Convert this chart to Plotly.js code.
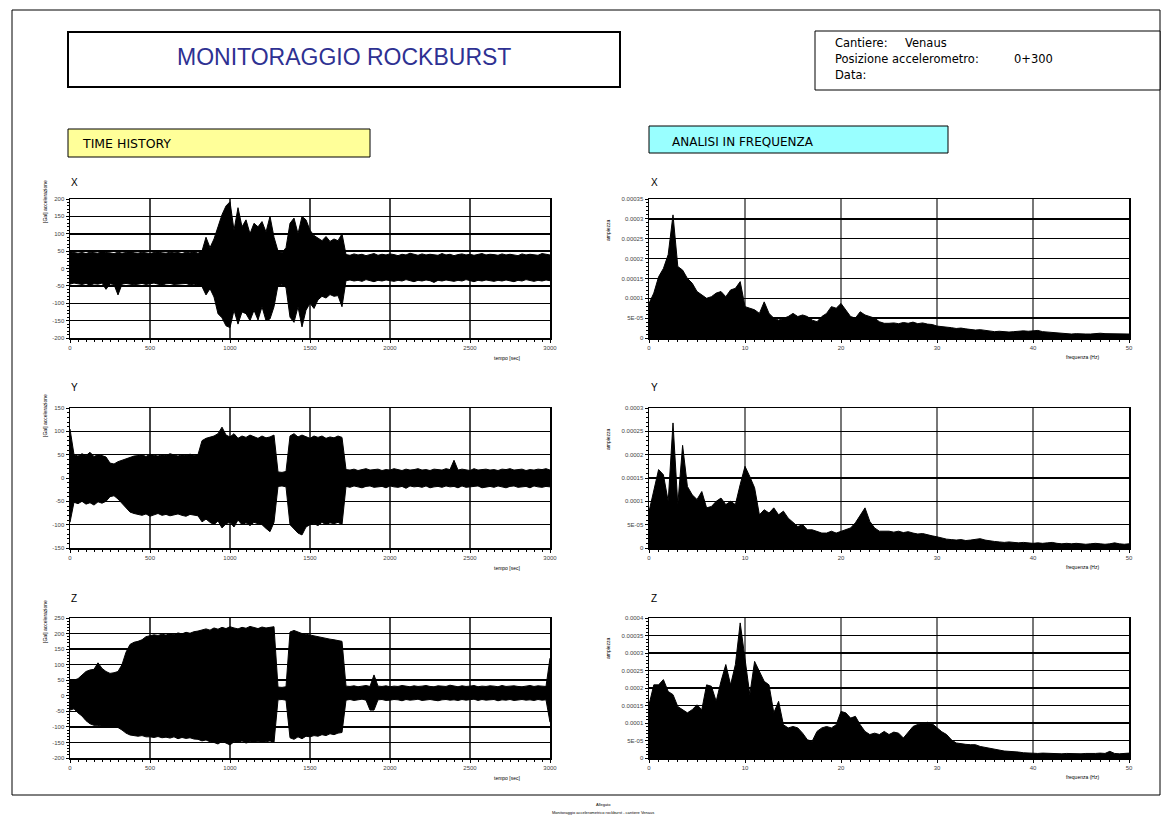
<!DOCTYPE html>
<html>
<head>
<meta charset="utf-8">
<script src="https://cdn.plot.ly/plotly-3.0.1.min.js"></script>
<style>html,body{margin:0;padding:0;background:#fff;}#chart{width:1168px;height:819px;}</style>
</head>
<body>
<div id="chart"></div>
<script>
// ---------- DATA ----------
const timeSec = [0,25,50,75,100,125,150,175,200,225,250,275,300,325,350,375,400,425,450,475,500,525,550,575,600,625,650,675,700,725,750,775,800,825,850,875,900,925,950,975,1000,1025,1050,1075,1100,1125,1150,1175,1200,1225,1250,1275,1300,1325,1350,1375,1400,1425,1450,1475,1500,1525,1550,1575,1600,1625,1650,1675,1700,1725,1750,1775,1800,1825,1850,1875,1900,1925,1950,1975,2000,2025,2050,2075,2100,2125,2150,2175,2200,2225,2250,2275,2300,2325,2350,2375,2400,2425,2450,2475,2500,2525,2550,2575,2600,2625,2650,2675,2700,2725,2750,2775,2800,2825,2850,2875,2900,2925,2950,2975,3000];

const accX_max = [48,45,44,46,43,47,45,44,52,46,45,43,47,44,46,50,45,44,47,45,43,46,48,45,44,47,45,46,43,47,45,48,44,50,
  90,60,85,120,155,180,192,110,175,120,140,100,130,120,135,105,150,90,50,45,60,130,145,100,150,140,110,95,88,80,92,78,85,80,100,
  40,38,42,39,41,37,40,43,38,41,39,42,40,37,41,39,44,40,38,42,39,41,40,38,43,39,41,37,40,42,39,41,38,40,43,39,41,40,38,42,39,41,40,37,42,39,41,40,38,43,40,39];
const accX_min = [-45,-42,-44,-46,-43,-48,-44,-45,-42,-60,-44,-46,-76,-45,-43,-44,-47,-45,-43,-46,-44,-42,-45,-48,-44,-43,-46,-45,-44,-43,-47,-45,-48,-52,
  -76,-58,-82,-130,-142,-165,-170,-120,-160,-125,-130,-150,-120,-148,-110,-150,-145,-110,-48,-45,-55,-140,-155,-110,-168,-120,-100,-115,-90,-80,-85,-75,-80,-78,-110,
  -35,-33,-36,-34,-37,-32,-35,-38,-34,-36,-33,-35,-37,-34,-36,-32,-35,-38,-34,-36,-33,-35,-40,-34,-36,-33,-35,-37,-34,-36,-32,-35,-38,-34,-36,-33,-35,-37,-34,-36,-33,-35,-38,-34,-36,-32,-35,-37,-34,-36,-33,-35];

const accY_max = [105,50,47,52,48,55,46,50,48,45,32,30,35,38,42,45,47,
  48,50,46,51,49,47,50,48,52,49,47,50,48,51,49,50,
  80,85,88,90,95,109,92,88,95,85,90,87,92,88,85,90,86,88,92,
  13,12,14,
  90,95,88,92,88,85,90,87,90,85,88,86,90,87,
  18,17,19,16,18,20,17,18,19,16,18,17,20,18,16,19,17,18,20,17,18,16,19,18,17,20,18,38,17,19,18,16,20,17,18,19,17,18,16,19,18,20,17,18,19,16,18,17,19,18,20,17];
const accY_min = [-95,-52,-55,-50,-56,-53,-58,-51,-54,-50,-40,-38,-45,-55,-65,-73,-76,
  -78,-80,-77,-82,-79,-76,-80,-78,-81,-79,-77,-80,-82,-78,-79,-81,
  -94,-88,-95,-100,-92,-107,-98,-95,-105,-90,-100,-96,-102,-95,-98,-100,-108,-115,-95,
  -18,-17,-19,
  -100,-110,-118,-122,-105,-100,-98,-102,-95,-100,-96,-98,-95,-100,
  -18,-20,-17,-19,-21,-18,-17,-20,-19,-18,-21,-17,-19,-20,-18,-22,-17,-19,-18,-20,-17,-21,-19,-18,-20,-17,-19,-18,-21,-17,-20,-19,-18,-17,-21,-19,-18,-20,-17,-19,-21,-18,-17,-20,-19,-18,-21,-17,-19,-20,-18,-19];

const accZ_max = [51,50,55,65,78,83,85,106,88,78,72,74,78,100,140,165,172,175,180,190,
  192,196,194,198,195,200,197,202,199,204,201,206,
  208,212,215,211,218,214,220,216,222,218,215,220,217,223,219,216,221,218,220,222,
  28,27,29,
  205,210,205,200,198,195,192,190,188,185,182,180,178,175,
  31,30,32,29,31,33,30,67,31,30,32,29,31,30,33,31,29,32,30,31,33,30,29,32,31,30,34,31,29,32,30,31,33,29,31,30,32,31,29,33,30,31,32,30,29,31,33,30,32,31,30,121];
const accZ_min = [-46,-42,-55,-65,-80,-90,-95,-95,-98,-100,-100,-98,-102,-110,-120,-126,-128,-130,-128,-132,
  -132,-134,-131,-135,-133,-136,-132,-138,-134,-137,-135,-139,
  -140,-145,-142,-148,-150,-155,-146,-152,-158,-148,-150,-145,-152,-148,-150,-146,-150,-148,-145,-150,
  -13,-12,-14,
  -135,-140,-132,-138,-130,-132,-128,-130,-125,-128,-122,-125,-120,-118,
  -14,-12,-15,-13,-11,-14,-46,-46,-13,-12,-15,-14,-12,-13,-16,-12,-14,-13,-11,-15,-13,-12,-14,-16,-13,-12,-14,-13,-15,-12,-14,-13,-11,-15,-12,-14,-13,-12,-16,-13,-14,-12,-15,-13,-12,-14,-13,-15,-12,-14,-13,-85];

const freqHz = [0,0.5,1,1.5,2,2.5,3,3.5,4,4.5,5,5.5,6,6.5,7,7.5,8,8.5,9,9.5,10,10.5,11,11.5,12,12.5,13,13.5,14,14.5,15,15.5,16,16.5,17,17.5,18,18.5,19,19.5,20,20.5,21,21.5,22,22.5,23,23.5,24,24.5,25,25.5,26,26.5,27,27.5,28,28.5,29,29.5,30,30.5,31,31.5,32,32.5,33,33.5,34,34.5,35,35.5,36,36.5,37,37.5,38,38.5,39,39.5,40,40.5,41,41.5,42,42.5,43,43.5,44,44.5,45,45.5,46,46.5,47,47.5,48,48.5,49,49.5,50];

const ampX = [8.7e-5,11.3e-5,15.4e-5,17.5e-5,21e-5,31.0e-5,18.0e-5,17.1e-5,15.0e-5,13.8e-5,11.7e-5,10.8e-5,10.0e-5,10.4e-5,11.3e-5,11.7e-5,10.4e-5,12.1e-5,12.5e-5,14.2e-5,7.9e-5,7.5e-5,7.1e-5,6.2e-5,9.1e-5,6.2e-5,5.0e-5,4.5e-5,5.0e-5,5.4e-5,6.2e-5,5.4e-5,5.8e-5,5.4e-5,4.5e-5,4.1e-5,5.4e-5,6.2e-5,7.9e-5,7.5e-5,8.7e-5,7.1e-5,5.4e-5,5.0e-5,6.6e-5,5.8e-5,5.4e-5,5.0e-5,4.1e-5,3.7e-5,3.7e-5,
  3.8e-5,3.6e-5,3.9e-5,3.7e-5,4.0e-5,3.6e-5,3.8e-5,3.5e-5,3.4e-5,3.0e-5,2.9e-5,2.8e-5,2.6e-5,2.4e-5,2.5e-5,2.3e-5,2.2e-5,2.0e-5,2.1e-5,1.9e-5,1.7e-5,1.6e-5,1.7e-5,1.6e-5,1.5e-5,1.6e-5,1.7e-5,1.8e-5,1.7e-5,1.8e-5,1.9e-5,1.6e-5,1.5e-5,1.5e-5,1.4e-5,1.3e-5,1.2e-5,1.0e-5,1.1e-5,1.0e-5,1.0e-5,1.0e-5,1.1e-5,1.2e-5,1.1e-5,1.1e-5,1.0e-5,1.0e-5,1.1e-5,1.0e-5];
const ampY = [7.8e-5,12.1e-5,16.8e-5,15.7e-5,10.0e-5,26.8e-5,9.3e-5,22.0e-5,13.2e-5,11.4e-5,10.4e-5,12.1e-5,8.6e-5,8.9e-5,10.0e-5,10.7e-5,9.3e-5,10.0e-5,9.3e-5,13.6e-5,17.5e-5,15.3e-5,12.9e-5,7.1e-5,8.2e-5,7.5e-5,8.6e-5,7.1e-5,7.9e-5,6.4e-5,5.4e-5,4.6e-5,5.0e-5,3.9e-5,3.9e-5,3.6e-5,3.2e-5,3.2e-5,3.6e-5,3.2e-5,3.6e-5,3.9e-5,4.3e-5,5.4e-5,7.1e-5,8.6e-5,5.7e-5,4.3e-5,3.6e-5,3.6e-5,3.6e-5,
  3.4e-5,3.6e-5,3.3e-5,3.5e-5,3.2e-5,3.0e-5,3.1e-5,2.8e-5,2.6e-5,2.4e-5,2.1e-5,1.9e-5,1.8e-5,1.7e-5,1.8e-5,1.6e-5,1.7e-5,1.8e-5,2.0e-5,1.7e-5,1.5e-5,1.4e-5,1.3e-5,1.2e-5,1.3e-5,1.2e-5,1.1e-5,1.2e-5,1.1e-5,1.0e-5,1.1e-5,1.0e-5,1.1e-5,1.2e-5,1.0e-5,0.9e-5,1.0e-5,0.9e-5,1.0e-5,0.9e-5,0.8e-5,0.9e-5,1.0e-5,0.9e-5,0.8e-5,0.9e-5,1.1e-5,0.9e-5,0.8e-5,0.9e-5];
const ampZ = [15.2e-5,20.9e-5,20.9e-5,22.4e-5,19.0e-5,18.1e-5,14.7e-5,13.8e-5,12.9e-5,13.8e-5,15.2e-5,13.8e-5,20.9e-5,20.5e-5,16.2e-5,21.9e-5,26.7e-5,20.9e-5,26.7e-5,38.6e-5,29.0e-5,18.1e-5,27.6e-5,24.8e-5,21.9e-5,20.9e-5,12.9e-5,16.2e-5,9.5e-5,8.6e-5,9.0e-5,8.6e-5,7.1e-5,5.2e-5,4.8e-5,7.6e-5,8.6e-5,9.0e-5,8.6e-5,9.5e-5,13.3e-5,12.9e-5,11.4e-5,11.9e-5,9.5e-5,7.6e-5,6.7e-5,7.1e-5,6.7e-5,7.6e-5,6.7e-5,
  7.4e-5,7.1e-5,5.7e-5,7.5e-5,9.0e-5,9.6e-5,10.0e-5,10.2e-5,9.8e-5,8.6e-5,7.5e-5,6.7e-5,5.2e-5,4.3e-5,4.0e-5,3.9e-5,3.8e-5,3.8e-5,3.3e-5,3.0e-5,2.7e-5,2.4e-5,2.2e-5,2.0e-5,1.9e-5,1.9e-5,1.7e-5,1.5e-5,1.4e-5,1.4e-5,1.3e-5,1.4e-5,1.3e-5,1.2e-5,1.3e-5,1.2e-5,1.3e-5,1.2e-5,1.2e-5,1.2e-5,1.3e-5,1.2e-5,1.3e-5,1.4e-5,1.3e-5,1.9e-5,1.3e-5,1.2e-5,1.4e-5,1.4e-5];

const timeTicks = [0,500,1000,1500,2000,2500,3000];
const timeTickText = ["0","500","1000","1500","2000","2500","3000"];
const freqTicks = [0,10,20,30,40,50];
const freqTickText = ["0","10","20","30","40","50"];
const accTicksX = [-200,-150,-100,-50,0,50,100,150,200];
const accTicksY = [-150,-100,-50,0,50,100,150];
const accTicksZ = [-200,-150,-100,-50,0,50,100,150,200,250];
const ampTicksX = [0,5e-5,1e-4,1.5e-4,2e-4,2.5e-4,3e-4,3.5e-4];
const ampTextX = ["0","5E-05","0.0001","0.00015","0.0002","0.00025","0.0003","0.00035"];
const ampTicksY = [0,5e-5,1e-4,1.5e-4,2e-4,2.5e-4,3e-4];
const ampTextY = ["0","5E-05","0.0001","0.00015","0.0002","0.00025","0.0003"];
const ampTicksZ = [0,5e-5,1e-4,1.5e-4,2e-4,2.5e-4,3e-4,3.5e-4,4e-4];
const ampTextZ = ["0","5E-05","0.0001","0.00015","0.0002","0.00025","0.0003","0.00035","0.0004"];

// ---------- LAYOUT HELPERS ----------
const W = 1168, H = 819;
const px = x => x / W;
const py = y => 1 - y / H;
const FONT = '"Liberation Sans", Arial, sans-serif';
const WIDE = '"DejaVu Sans", Verdana, sans-serif';

const leftDom = [px(70), px(550)];
const rightDom = [px(649), px(1129)];
const rows = [[199, 338], [408, 548], [618, 758]];

function band(xa, ya, lo, hi) {
  return [
    {x: timeSec, y: lo, xaxis: xa, yaxis: ya, mode: 'lines', line: {color: '#000', width: 1}, hoverinfo: 'skip', showlegend: false},
    {x: timeSec, y: hi, xaxis: xa, yaxis: ya, mode: 'lines', fill: 'tonexty', fillcolor: '#000', line: {color: '#000', width: 1}, hoverinfo: 'skip', showlegend: false}
  ];
}
function spec(xa, ya, amp) {
  return {x: freqHz, y: amp, xaxis: xa, yaxis: ya, mode: 'lines', fill: 'tozeroy', fillcolor: '#000', line: {color: '#000', width: 1}, hoverinfo: 'skip', showlegend: false};
}

const data = [
  ...band('x', 'y', accX_min, accX_max),
  spec('x2', 'y2', ampX),
  ...band('x3', 'y3', accY_min, accY_max),
  spec('x4', 'y4', ampY),
  ...band('x5', 'y5', accZ_min, accZ_max),
  spec('x6', 'y6', ampZ)
];

const tickFont = {family: FONT, size: 6, color: '#444'};
function xTime(anchor) {
  return {domain: leftDom, anchor: anchor, range: [0, 3000], tickvals: timeTicks, ticktext: timeTickText,
    showgrid: true, gridcolor: '#444', gridwidth: 2, zeroline: false,
    showline: true, mirror: true, linecolor: '#000', linewidth: 1.5,
    ticks: 'outside', ticklen: 3, tickcolor: '#000', tickfont: tickFont,
    minor: {dtick: 50, ticks: 'outside', ticklen: 2, tickcolor: '#000', showgrid: false}};
}
function xFreq(anchor) {
  return {domain: rightDom, anchor: anchor, range: [0, 50], tickvals: freqTicks, ticktext: freqTickText,
    showgrid: true, gridcolor: '#777', gridwidth: 2, zeroline: false,
    showline: true, mirror: true, linecolor: '#000', linewidth: 1.5,
    ticks: 'outside', ticklen: 3, tickcolor: '#000', tickfont: tickFont,
    minor: {dtick: 1, ticks: 'outside', ticklen: 2, tickcolor: '#000', showgrid: false}};
}
function yAx(anchor, row, range, vals, text, minorD) {
  return {domain: [py(rows[row][1]), py(rows[row][0])], anchor: anchor, range: range, tickvals: vals, ticktext: text,
    showgrid: true, gridcolor: '#000', gridwidth: 1.5, zeroline: false,
    showline: true, mirror: true, linecolor: '#000', linewidth: 1.5,
    ticks: 'outside', ticklen: 3, tickcolor: '#000', tickfont: tickFont,
    minor: {dtick: minorD, ticks: 'outside', ticklen: 2, tickcolor: '#000', showgrid: false}};
}

function txt(x, y, text, size, opts) {
  return Object.assign({xref: 'paper', yref: 'paper', x: px(x), y: py(y), text: text, showarrow: false,
    xanchor: 'left', yanchor: 'middle', font: {family: FONT, size: size, color: '#000'}}, opts || {});
}
function rect(x0, y0, x1, y1, fill, lw) {
  return {type: 'rect', xref: 'paper', yref: 'paper', x0: px(x0), y0: py(y1), x1: px(x1), y1: py(y0),
    fillcolor: fill, line: {color: '#000', width: lw}, layer: 'below'};
}
const wideFont = s => ({font: {family: WIDE, size: s, color: '#000'}});

const annotations = [
  txt(344, 57, 'MONITORAGGIO ROCKBURST', 23, {xanchor: 'center', font: {family: FONT, size: 23, color: '#2e3192'}}),
  txt(833, 43, 'Cantiere:', 11, wideFont(11.5)), txt(903, 43, 'Venaus', 11, wideFont(11.5)),
  txt(833, 59, 'Posizione accelerometro:', 11, wideFont(11.5)), txt(1012, 59, '0+300', 11, wideFont(11.5)),
  txt(833, 75, 'Data:', 11, wideFont(11.5)),
  txt(80, 143, 'TIME HISTORY', 12, wideFont(12.5)),
  txt(670, 142, 'ANALISI IN FREQUENZA', 12, wideFont(12)),
  txt(69, 182, 'X', 10), txt(649, 182, 'X', 10),
  txt(69, 387, 'Y', 10), txt(649, 387, 'Y', 10),
  txt(69, 598, 'Z', 10), txt(649, 598, 'Z', 10),
  txt(45, 202, '[Gal] accelerazione', 5, {xanchor: 'center', textangle: -90}),
  txt(45, 416, '[Gal] accelerazione', 5, {xanchor: 'center', textangle: -90}),
  txt(45, 622, '[Gal] accelerazione', 5, {xanchor: 'center', textangle: -90}),
  txt(608, 230, 'ampiezza', 5, {xanchor: 'center', textangle: -90}),
  txt(608, 439, 'ampiezza', 5, {xanchor: 'center', textangle: -90}),
  txt(608, 648, 'ampiezza', 5, {xanchor: 'center', textangle: -90}),
  txt(507, 358, 'tempo [sec]', 5, {xanchor: 'center'}),
  txt(507, 568, 'tempo [sec]', 5, {xanchor: 'center'}),
  txt(507, 778, 'tempo [sec]', 5, {xanchor: 'center'}),
  txt(1082, 357, 'frequenza (Hz)', 5, {xanchor: 'center'}),
  txt(1082, 567, 'frequenza (Hz)', 5, {xanchor: 'center'}),
  txt(1082, 777, 'frequenza (Hz)', 5, {xanchor: 'center'}),
  txt(603, 804, 'Allegato', 4, {xanchor: 'center'}),
  txt(603, 812, 'Monitoraggio accelerometrico rockburst - cantiere Venaus', 4, {xanchor: 'center'})
];

const shapes = [
  rect(12, 10, 1160, 795, 'rgba(0,0,0,0)', 1),
  rect(68, 32, 620, 87, '#fff', 2),
  rect(815, 31, 1160, 90, '#fff', 1),
  rect(68, 129, 370, 157, '#ffff99', 1),
  rect(649, 126, 948, 153, '#99ffff', 1)
];

const layout = {
  width: W, height: H, margin: {l: 0, r: 0, t: 0, b: 0},
  paper_bgcolor: '#fff', plot_bgcolor: '#fff', showlegend: false,
  font: {family: FONT, color: '#000'},
  xaxis: xTime('y'), yaxis: yAx('x', 0, [-200, 200], accTicksX, accTicksX.map(String), 10),
  xaxis2: xFreq('y2'), yaxis2: yAx('x2', 0, [0, 3.5e-4], ampTicksX, ampTextX, 1e-5),
  xaxis3: xTime('y3'), yaxis3: yAx('x3', 1, [-150, 150], accTicksY, accTicksY.map(String), 10),
  xaxis4: xFreq('y4'), yaxis4: yAx('x4', 1, [0, 3e-4], ampTicksY, ampTextY, 1e-5),
  xaxis5: xTime('y5'), yaxis5: yAx('x5', 2, [-200, 250], accTicksZ, accTicksZ.map(String), 10),
  xaxis6: xFreq('y6'), yaxis6: yAx('x6', 2, [0, 4e-4], ampTicksZ, ampTextZ, 1e-5),
  annotations: annotations, shapes: shapes
};

Plotly.newPlot('chart', data, layout, {staticPlot: true, displayModeBar: false});
</script>
</body>
</html>
